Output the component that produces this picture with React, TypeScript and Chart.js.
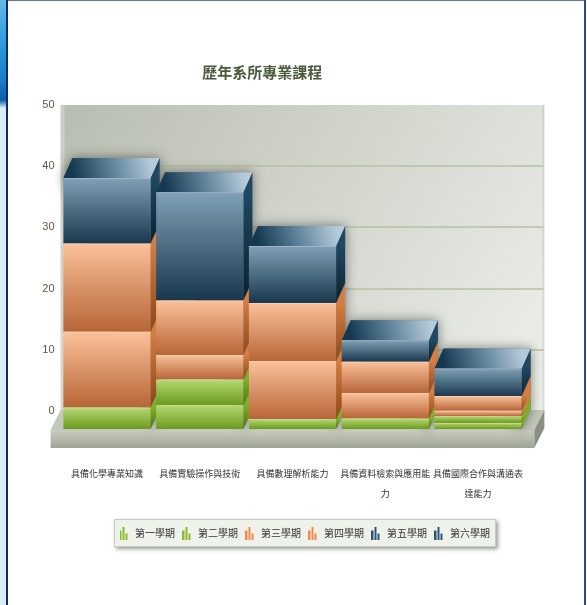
import React, { useEffect, useRef } from "react";
import { Chart, registerables } from "chart.js";

Chart.register(...registerables);

// ---- data ----
const chartTitle = "歷年系所專業課程";
const categories: (string | string[])[] = [
  "具備化學專業知識",
  "具備實驗操作與技術",
  "具備數理解析能力",
  ["具備資料檢索與應用能", "力"],
  ["具備國際合作與溝通表", "達能力"],
];
const seriesNames = ["第一學期", "第二學期", "第三學期", "第四學期", "第五學期", "第六學期"];
const sem1 = [3.5, 3.9, 1.6, 1.7, 1.0];
const sem2 = [0, 4.2, 0, 0, 1.1];
const sem3 = [12.4, 4.0, 9.5, 4.2, 0.9];
const sem4 = [14.4, 8.9, 9.5, 5.1, 2.4];
const sem5 = [10.7, 17.7, 9.3, 3.5, 4.5];
const sem6 = [0, 0, 0, 0, 0];
const seriesValues = [sem1, sem2, sem3, sem4, sem5, sem6];
const yTicks = [0, 10, 20, 30, 40, 50];
const yMin = 0;
const yMax = 50;
const yStep = 10;

// ---- styles ----
const CJK = '"Noto Sans CJK TC", "Noto Sans CJK SC", sans-serif';
type Fam = { front: string[]; side: string[]; top: string[]; icon: string };
const PAL: Record<string, Fam> = {
  green: { front: ["#b6d872", "#6b9a1e"], side: ["#80ae28", "#4a760a"], top: ["#5c8a12", "#97c040", "#d4e9a6"], icon: "#8cba2e" },
  orange: { front: ["#fbc19b", "#b76536"], side: ["#d47e42", "#8c4616"], top: ["#a9592a", "#e5965f", "#fcd3b4"], icon: "#f28a4f" },
  blue: { front: ["#7fa0b6", "#19384e"], side: ["#1f4862", "#0a2232"], top: ["#14384f", "#5f839b", "#b6cbda"], icon: "#2b5679" },
};
const families = ["green", "green", "orange", "orange", "blue", "blue"];
const DX = 9;
const DY = -20;
const WALL = -18;

function makeIcon(color: string) {
  const c = document.createElement("canvas");
  c.width = 9;
  c.height = 13;
  const x = c.getContext("2d")!;
  x.fillStyle = color;
  x.fillRect(0, 4, 2, 9);
  x.fillRect(3, 0, 2, 13);
  x.fillRect(6, 7, 2, 6);
  return c;
}

function frontFill(c: any, d: number) {
  const chart = c.chart;
  const fam = PAL[families[d]];
  if (!chart.chartArea || c.type !== "data" || !chart.scales.y) return fam.front[1];
  const i = c.dataIndex;
  let start = 0;
  for (let k = 0; k < d; k++) start += seriesValues[k][i];
  const end = start + seriesValues[d][i];
  const ys = chart.scales.y;
  const y0 = ys.getPixelForValue(end);
  const y1 = ys.getPixelForValue(start);
  if (y1 - y0 < 1) return fam.front[1];
  const g = chart.ctx.createLinearGradient(0, y0, 0, y1);
  g.addColorStop(0, fam.front[0]);
  g.addColorStop(1, fam.front[1]);
  return g;
}

const threeD = {
  id: "threeD",
  afterLayout(chart: any) {
    const lg = chart.legend;
    if (!lg || !lg.lineWidths) return;
    const pad = 6;
    const dy = 533 - (lg.top + pad + 5);
    lg.top += dy;
    lg.bottom += dy;
    const firstX = (lg.left + pad + lg.right - lg.lineWidths[0]) / 2;
    const dx = 118 - firstX;
    lg.left += dx;
    lg.right += dx;
  },
  beforeDraw(chart: any) {
    const { ctx, chartArea: a } = chart;
    const ys = chart.scales.y;
    ctx.save();
    // back wall
    const wl = a.left;
    const wr = a.right + 20;
    const wt = ys.getPixelForValue(yMax) + WALL;
    const wb = ys.getPixelForValue(yMin) + WALL;
    let g = ctx.createLinearGradient(wl, wt, wr, wb);
    g.addColorStop(0, "#b8bdb1");
    g.addColorStop(1, "#eef0ea");
    ctx.fillStyle = g;
    ctx.fillRect(wl, wt, wr - wl, wb - wt + 4);
    ctx.fillStyle = "rgba(255,255,255,0.25)";
    ctx.fillRect(wl, wt, 4, wb - wt);
    ctx.fillStyle = "rgba(0,0,0,0.08)";
    ctx.fillRect(wr - 2, wt, 2, wb - wt);
    // gridlines
    ctx.strokeStyle = "#b4c39e";
    ctx.lineWidth = 1.5;
    for (const v of yTicks) {
      if (v <= yMin || v >= yMax) continue;
      const py = Math.round(ys.getPixelForValue(v) + WALL);
      ctx.beginPath();
      ctx.moveTo(wl + 4, py);
      ctx.lineTo(wr - 1, py);
      ctx.stroke();
    }
    // floor
    const ff = ys.getPixelForValue(yMin) + 1;
    const fl = a.left - 10;
    const fr = a.right + 10;
    const fb = ff + 18;
    ctx.fillStyle = "#c3c8bb";
    ctx.beginPath();
    ctx.moveTo(fl, ff);
    ctx.lineTo(fr, ff);
    ctx.lineTo(fr + 10, ff - 20);
    ctx.lineTo(a.left, ff - 20);
    ctx.closePath();
    ctx.fill();
    g = ctx.createLinearGradient(0, ff, 0, fb);
    g.addColorStop(0, "#c9cec1");
    g.addColorStop(1, "#9ea495");
    ctx.fillStyle = g;
    ctx.fillRect(fl, ff, fr - fl, fb - ff);
    ctx.fillStyle = "#8a9081";
    ctx.beginPath();
    ctx.moveTo(fr, ff);
    ctx.lineTo(fr + 10, ff - 20);
    ctx.lineTo(fr + 10, fb - 20);
    ctx.lineTo(fr, fb);
    ctx.closePath();
    ctx.fill();
    // legend frame
    const lg = chart.legend;
    if (lg && lg.legendHitBoxes && lg.legendHitBoxes.length) {
      const hb = lg.legendHitBoxes;
      const x0 = hb[0].left - 4;
      const x1 = hb[hb.length - 1].left + hb[hb.length - 1].width + 6;
      const cy = hb[0].top + hb[0].height / 2;
      ctx.save();
      ctx.shadowColor = "rgba(0,0,0,0.4)";
      ctx.shadowBlur = 4;
      ctx.shadowOffsetX = 2;
      ctx.shadowOffsetY = 2;
      ctx.fillStyle = "#eff1eb";
      ctx.fillRect(x0, cy - 14, x1 - x0, 28);
      ctx.restore();
      ctx.strokeStyle = "#c8ccc0";
      ctx.lineWidth = 1;
      ctx.strokeRect(x0 + 0.5, cy - 13.5, x1 - x0 - 1, 27);
    }
    ctx.restore();
  },
  beforeDatasetsDraw(chart: any) {
    const ctx = chart.ctx;
    const n = categories.length;
    const metas = seriesValues.map((_, d) => chart.getDatasetMeta(d));
    ctx.save();
    for (let i = 0; i < n; i++) {
      let topD = -1;
      for (let d = 0; d < seriesValues.length; d++) if (seriesValues[d][i] > 0) topD = d;
      if (topD < 0) continue;
      const el = metas[topD].data[i];
      const { x, y, width } = el.getProps(["x", "y", "width"], true);
      const first = metas[0].data[i].getProps(["base"], true).base;
      const L = x - width / 2;
      const R = x + width / 2;
      ctx.save();
      ctx.shadowColor = "rgba(30,30,30,0.55)";
      ctx.shadowBlur = 12;
      ctx.fillStyle = "#777";
      ctx.beginPath();
      ctx.moveTo(L, y);
      ctx.lineTo(L + DX, y + DY);
      ctx.lineTo(R + DX, y + DY);
      ctx.lineTo(R + DX, first + DY);
      ctx.lineTo(R, first);
      ctx.closePath();
      ctx.fill();
      ctx.restore();
    }
    for (let i = 0; i < n; i++) {
      let topD = -1;
      for (let d = 0; d < seriesValues.length; d++) {
        if (seriesValues[d][i] <= 0) continue;
        topD = d;
        const fam = PAL[families[d]];
        const el = metas[d].data[i];
        const { x, y, base, width } = el.getProps(["x", "y", "base", "width"], true);
        const R = x + width / 2;
        const g = ctx.createLinearGradient(0, y, 0, base);
        g.addColorStop(0, fam.side[0]);
        g.addColorStop(1, fam.side[1]);
        ctx.fillStyle = g;
        ctx.beginPath();
        ctx.moveTo(R, y);
        ctx.lineTo(R + DX, y + DY);
        ctx.lineTo(R + DX, base + DY);
        ctx.lineTo(R, base);
        ctx.closePath();
        ctx.fill();
      }
      if (topD < 0) continue;
      const fam = PAL[families[topD]];
      const el = metas[topD].data[i];
      const { x, y, width } = el.getProps(["x", "y", "width"], true);
      const L = x - width / 2;
      const R = x + width / 2;
      const g = ctx.createLinearGradient(L + 10, y, R, y + DY);
      g.addColorStop(0, fam.top[0]);
      g.addColorStop(0.5, fam.top[1]);
      g.addColorStop(1, fam.top[2]);
      ctx.fillStyle = g;
      ctx.beginPath();
      ctx.moveTo(L, y);
      ctx.lineTo(L + DX, y + DY);
      ctx.lineTo(R + DX, y + DY);
      ctx.lineTo(R, y);
      ctx.closePath();
      ctx.fill();
    }
    ctx.restore();
  },
  afterDatasetsDraw(chart: any) {
    const ctx = chart.ctx;
    ctx.save();
    ctx.fillStyle = "rgba(255,255,255,0.25)";
    for (let d = 0; d < seriesValues.length; d++) {
      const meta = chart.getDatasetMeta(d);
      for (let i = 0; i < categories.length; i++) {
        if (seriesValues[d][i] <= 0) continue;
        const { x, y, width } = meta.data[i].getProps(["x", "y", "width"], true);
        ctx.fillRect(x - width / 2, y, width, 1);
      }
    }
    ctx.restore();
  },
};

export default function App() {
  const ref = useRef<HTMLCanvasElement>(null);
  useEffect(() => {
    if (!ref.current) return;
    const icons = families.map((f) => makeIcon(PAL[f].icon));
    const chart = new Chart(ref.current, {
      type: "bar",
      data: {
        labels: categories as any,
        datasets: seriesNames.map((name, d) => ({
          label: name,
          data: seriesValues[d],
          backgroundColor: (c: any) => frontFill(c, d),
          borderWidth: 0,
          barPercentage: 0.94,
          categoryPercentage: 1.0,
        })),
      },
      options: {
        responsive: false,
        animation: false,
        devicePixelRatio: 1,
        events: [],
        layout: { padding: { left: 0, right: 62.6, top: 0, bottom: 75 } },
        plugins: {
          title: {
            display: true,
            text: chartTitle,
            color: "#4b5a3b",
            font: { size: 15, weight: "bold", family: CJK },
            padding: { top: 63, bottom: 42.0 },
          },
          legend: {
            display: true,
            position: "bottom",
            fullSize: false,
            labels: {
              usePointStyle: true,
              pointStyleWidth: 12,
              boxHeight: 10,
              padding: 6,
              color: "#333",
              font: { size: 10, family: CJK },
              generateLabels: (ch: any) =>
                ch.data.datasets.map((ds: any, i: number) => ({
                  text: ds.label,
                  pointStyle: icons[i],
                  fillStyle: PAL[families[i]].icon,
                  strokeStyle: "transparent",
                  lineWidth: 0,
                  hidden: false,
                  datasetIndex: i,
                  fontColor: "#333",
                })),
            },
          },
          tooltip: { enabled: false },
        },
        scales: {
          x: {
            stacked: true,
            grid: { display: false, drawTicks: false },
            border: { display: false },
            ticks: {
              color: "#333",
              padding: 35,
              maxRotation: 0,
              minRotation: 0,
              autoSkip: false,
              font: { size: 9, family: CJK, lineHeight: 2.2 },
            },
            afterFit: (s: any) => {
              s.height = 75;
              s.paddingLeft = 0;
              s.paddingRight = 0;
            },
          },
          y: {
            stacked: true,
            min: yMin,
            max: yMax,
            grid: { display: false, drawTicks: false },
            border: { display: false },
            ticks: {
              stepSize: yStep,
              padding: 6,
              labelOffset: WALL,
              color: "#5a5a48",
              font: { size: 11, family: '"Liberation Sans", Arial, sans-serif' },
            },
            afterFit: (s: any) => {
              s.width = 60.6;
              s.paddingTop = 0;
              s.paddingBottom = 0;
            },
          },
        },
      },
      plugins: [threeD],
    } as any);
    return () => chart.destroy();
  }, []);

  return (
    <div style={{ position: "fixed", left: 0, top: 0, width: 587, height: 605, background: "#fff", overflow: "hidden" }}>
      <div
        style={{
          position: "absolute",
          left: 0,
          top: 0,
          width: 6,
          height: 605,
          background: "linear-gradient(#66b9e8 0px, #2a9bd8 45px, #1a7cc4 80px, #0d5ea8 100px, #dcedf8 108px, #dcedf8 605px)",
        }}
      />
      <div style={{ position: "absolute", left: 6, top: 0, width: 2, height: 605, background: "#0b2a6e" }} />
      <div style={{ position: "absolute", left: 8, top: 0, width: 577, height: 1, background: "#5a76aa" }} />
      <div style={{ position: "absolute", left: 584, top: 0, width: 2, height: 605, background: "#2a4a8c" }} />
      <canvas ref={ref} width={587} height={605} style={{ position: "absolute", left: 0, top: 0 }} />
    </div>
  );
}
